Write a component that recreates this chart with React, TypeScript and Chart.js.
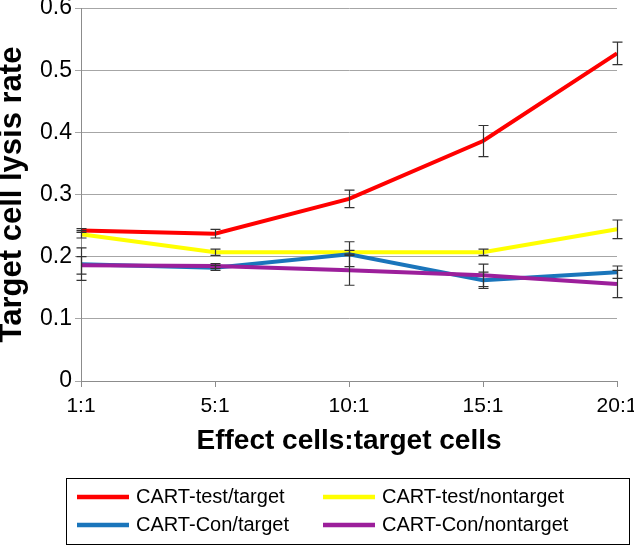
import React, { useEffect, useRef } from "react";
import { Chart, registerables } from "chart.js";

Chart.register(...registerables);

const categories = ["1:1", "5:1", "10:1", "15:1", "20:1"];
const seriesNames = ["CART-test/target", "CART-test/nontarget", "CART-Con/target", "CART-Con/nontarget"];
const testTarget = [0.242, 0.237, 0.293, 0.386, 0.527];
const testTargetErr = [0.003, 0.007, 0.014, 0.025, 0.018];
const testNontarget = [0.236, 0.207, 0.207, 0.207, 0.244];
const testNontargetErr = [0.006, 0.005, 0.003, 0.005, 0.015];
const conTarget = [0.188, 0.182, 0.204, 0.162, 0.175];
const conTargetErr = [0.026, 0.004, 0.02, 0.013, 0.01];
const conNontarget = [0.186, 0.185, 0.178, 0.17, 0.156];
const conNontargetErr = [0.014, 0.004, 0.024, 0.018, 0.022];
const yTicks = [0, 0.1, 0.2, 0.3, 0.4, 0.5, 0.6];

const colors = ["#ff0000", "#ffff00", "#1a75bb", "#9c1f9b"];
const FONT = "'Liberation Sans', Arial, sans-serif";

const errorBars = {
  id: "errorBars",
  afterDatasetsDraw(chart: any) {
    const ctx = chart.ctx;
    const errs = [testTargetErr, testNontargetErr, conTargetErr, conNontargetErr];
    const y = chart.scales.y;
    ctx.save();
    ctx.strokeStyle = "#333333";
    ctx.lineWidth = 1.2;
    chart.data.datasets.forEach((ds: any, di: number) => {
      const meta = chart.getDatasetMeta(di);
      meta.data.forEach((pt: any, i: number) => {
        const v = ds.data[i];
        const e = errs[di][i];
        const x = Math.round(pt.x) + 0.5;
        const yt = y.getPixelForValue(v + e);
        const yb = y.getPixelForValue(v - e);
        ctx.beginPath();
        ctx.moveTo(x, yt);
        ctx.lineTo(x, yb);
        ctx.moveTo(x - 5, yt);
        ctx.lineTo(x + 5, yt);
        ctx.moveTo(x - 5, yb);
        ctx.lineTo(x + 5, yb);
        ctx.stroke();
      });
    });
    ctx.restore();
  },
};

const boxLegend = {
  id: "boxLegend",
  afterDraw(chart: any) {
    const ctx = chart.ctx;
    ctx.save();
    ctx.strokeStyle = "#000000";
    ctx.lineWidth = 1;
    ctx.strokeRect(66.5, 478.5, 563, 66);
    const cols = [77, 323];
    const rows = [497, 525];
    ctx.font = `20px ${FONT}`;
    ctx.textBaseline = "middle";
    ctx.fillStyle = "#000000";
    chart.data.datasets.forEach((ds: any, i: number) => {
      const cx = cols[i % 2];
      const cy = rows[Math.floor(i / 2)];
      ctx.strokeStyle = ds.borderColor;
      ctx.lineWidth = 4.5;
      ctx.beginPath();
      ctx.moveTo(cx, cy);
      ctx.lineTo(cx + 52, cy);
      ctx.stroke();
      ctx.fillText(ds.label, cx + 59, cy);
    });
    ctx.restore();
  },
};

export default function App() {
  const ref = useRef<HTMLCanvasElement | null>(null);
  useEffect(() => {
    if (!ref.current) return;
    const series = [testTarget, testNontarget, conTarget, conNontarget];
    const chart = new Chart(ref.current, {
      type: "line",
      data: {
        labels: categories,
        datasets: series.map((d, i) => ({
          label: seriesNames[i],
          data: d,
          borderColor: colors[i],
          backgroundColor: colors[i],
          borderWidth: 4,
          pointRadius: 0,
          tension: 0,
          order: 3 - i,
        })),
      },
      options: {
        responsive: false,
        animation: false,
        devicePixelRatio: 1,
        layout: { padding: { top: 8, right: 17, bottom: 73, left: 0 } },
        plugins: { legend: { display: false }, tooltip: { enabled: false } },
        scales: {
          x: {
            type: "category",
            offset: false,
            grid: { display: true, drawOnChartArea: false, drawTicks: true, tickLength: 6, color: "#8c8c8c" },
            border: { display: true, color: "#8c8c8c" },
            ticks: { color: "#000", font: { family: FONT, size: 21 }, padding: 7, maxRotation: 0 },
            title: {
              display: true,
              text: "Effect cells:target cells",
              color: "#000",
              font: { family: FONT, size: 28, weight: "bold", lineHeight: 1 },
              padding: { top: 0, bottom: 18 },
            },
            afterFit(scale: any) {
              scale.height = 92;
              scale.paddingLeft = 0;
              scale.paddingRight = 0;
            },
          },
          y: {
            min: 0,
            max: 0.6,
            afterBuildTicks(scale: any) {
              scale.ticks = yTicks.map((v) => ({ value: v }));
            },
            grid: { color: "#a6a6a6", tickLength: 6, drawTicks: true },
            border: { display: true, color: "#8c8c8c" },
            ticks: {
              color: "#000",
              font: { family: FONT, size: 23 },
              padding: 3,
              callback: (v: any) => String(Number(v)),
            },
            title: {
              display: true,
              text: "Target cell lysis rate",
              color: "#000",
              font: { family: FONT, size: 31, weight: "bold", lineHeight: 1 },
              padding: { top: -3, bottom: 0 },
            },
            afterFit(scale: any) {
              scale.width = 81;
              scale.paddingTop = 0;
              scale.paddingBottom = 0;
            },
          },
        },
      },
      plugins: [errorBars, boxLegend],
    });
    return () => chart.destroy();
  }, []);
  return (
    <div style={{ position: "absolute", left: 0, top: 0, width: 634, height: 546, background: "#fff" }}>
      <canvas ref={ref} width={634} height={546} style={{ width: 634, height: 546, display: "block" }} />
    </div>
  );
}
